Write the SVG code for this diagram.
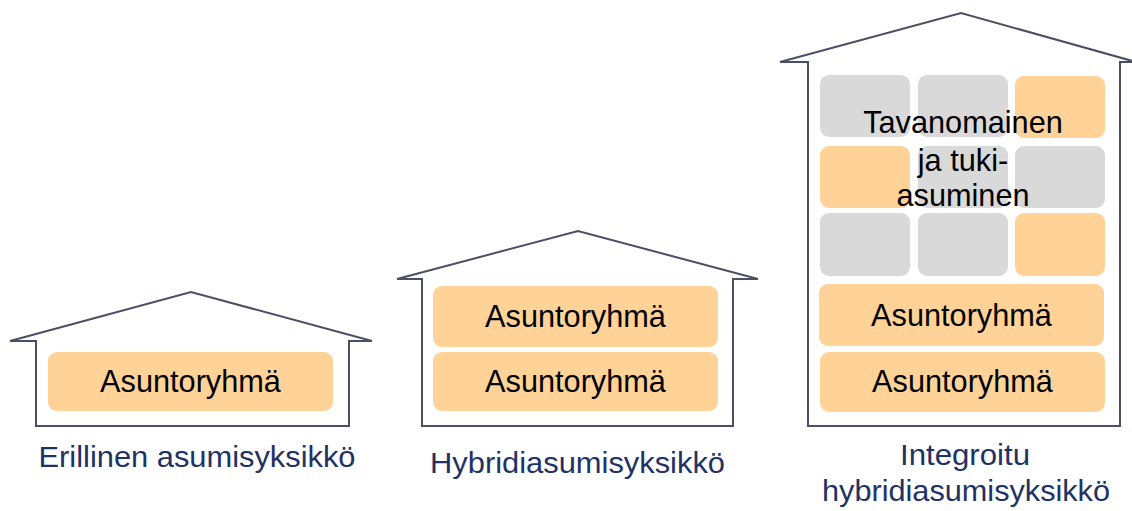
<svg xmlns="http://www.w3.org/2000/svg" width="1132" height="511" viewBox="0 0 1132 511">
<style>
.house{fill:none;stroke:#4b4f66;stroke-width:2;stroke-linejoin:miter}
.or{fill:#FFD297}
.gr{fill:#D9D9D9}
.lbl{font-family:"Liberation Sans",Arial,sans-serif;font-size:30.7px;fill:#000;text-anchor:middle}
.cap{font-family:"Liberation Sans",Arial,sans-serif;font-size:29px;fill:#1F3264;text-anchor:middle}
</style>
<rect width="1132" height="511" fill="#fff"/>
<g id="house1">
<path class="house" d="M10,341 L191,292 L372,341 L349,341 L349,426 L36,426 L36,341 Z"/>
<rect class="or" x="48" y="352" width="285" height="59" rx="9"/>
<text class="lbl" x="190.5" y="392">Asuntoryhmä</text>
</g>
<g id="house2">
<path class="house" d="M397,279 L578,231 L758,279 L733,279 L733,426 L422,426 L422,279 Z"/>
<rect class="or" x="433" y="286" width="285" height="61" rx="9"/>
<text class="lbl" x="575.5" y="327">Asuntoryhmä</text>
<rect class="or" x="433" y="352" width="285" height="59" rx="9"/>
<text class="lbl" x="575.5" y="392">Asuntoryhmä</text>
</g>
<g id="house3">
<path class="house" d="M780,62 L961,13 L1136,62 L1120,62 L1120,426 L808,426 L808,62 Z"/>
<rect class="gr" x="820" y="75" width="90" height="62" rx="9"/>
<rect class="gr" x="918" y="75" width="90" height="62" rx="9"/>
<rect class="or" x="1015" y="76" width="90" height="62" rx="9"/>
<rect class="or" x="820" y="146" width="90" height="62" rx="9"/>
<rect class="gr" x="918" y="146" width="90" height="62" rx="9"/>
<rect class="gr" x="1015" y="146" width="90" height="62" rx="9"/>
<rect class="gr" x="820" y="213" width="90" height="63" rx="9"/>
<rect class="gr" x="918" y="213" width="90" height="63" rx="9"/>
<rect class="or" x="1015" y="213" width="90" height="63" rx="9"/>
<text class="lbl" x="963" y="133">Tavanomainen</text>
<text class="lbl" x="963" y="171">ja tuki-</text>
<text class="lbl" x="963" y="206">asuminen</text>
<rect class="or" x="819" y="284" width="285" height="62" rx="9"/>
<rect class="or" x="820" y="352" width="285" height="60" rx="9"/>
<text class="lbl" x="961.5" y="326">Asuntoryhmä</text>
<text class="lbl" x="962.5" y="392">Asuntoryhmä</text>
</g>
<g id="captions">
<text class="cap" x="197" y="467" textLength="317" lengthAdjust="spacingAndGlyphs">Erillinen asumisyksikkö</text>
<text class="cap" x="577.5" y="473" textLength="295" lengthAdjust="spacingAndGlyphs">Hybridiasumisyksikkö</text>
<text class="cap" x="965" y="465" textLength="130" lengthAdjust="spacingAndGlyphs">Integroitu</text>
<text class="cap" x="966" y="501" textLength="288" lengthAdjust="spacingAndGlyphs">hybridiasumisyksikkö</text>
</g>
</svg>
